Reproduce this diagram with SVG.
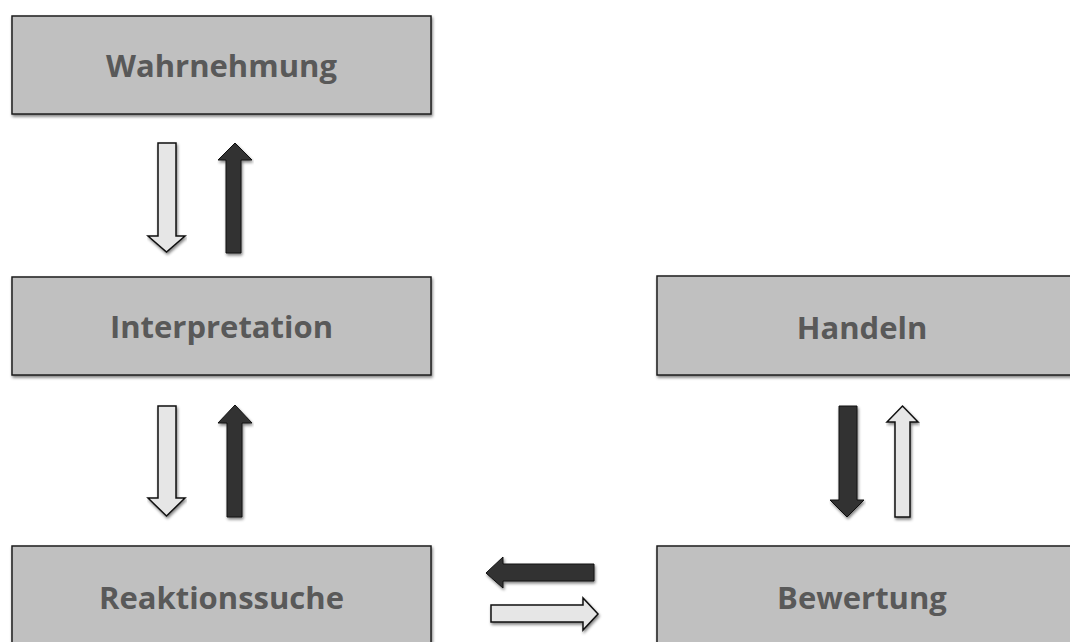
<svg xmlns="http://www.w3.org/2000/svg" width="1070" height="642" viewBox="0 0 1070 642">
<defs>
<filter id="sh" x="-5%" y="-10%" width="110%" height="130%">
<feGaussianBlur in="SourceAlpha" stdDeviation="1.5"/>
<feOffset dx="1" dy="2" result="b"/>
<feComponentTransfer><feFuncA type="linear" slope="0.5"/></feComponentTransfer>
<feMerge><feMergeNode/><feMergeNode in="SourceGraphic"/></feMerge>
</filter>
<style>
.box{fill:#c0c0c0;stroke:#1e1e1e;stroke-width:1.5;filter:url(#sh)}
.lbl{font-family:"Open Sans","Liberation Sans",sans-serif;font-weight:bold;font-size:31px;fill:#595959;text-anchor:middle}
.light{fill:#e6e6e6;stroke:#111;stroke-width:1.5;filter:url(#sh)}
.dark{fill:#333333;stroke:#111;stroke-width:1;filter:url(#sh)}
</style>
</defs>
<rect width="1070" height="642" fill="#ffffff"/>
<g id="wahrnehmung"><rect class="box" x="12" y="16" width="419" height="98"/><text class="lbl" x="221.5" y="77">Wahrnehmung</text></g>
<g id="interpretation"><rect class="box" x="12" y="277" width="419" height="98"/><text class="lbl" x="221.5" y="338">Interpretation</text></g>
<g id="reaktionssuche"><rect class="box" x="12" y="546" width="419" height="100"/><text class="lbl" x="221.5" y="609">Reaktionssuche</text></g>
<g id="handeln"><rect class="box" x="657" y="276" width="420" height="99"/><text class="lbl" x="862" y="339">Handeln</text></g>
<g id="bewertung"><rect class="box" x="657" y="546" width="420" height="100"/><text class="lbl" x="862" y="609">Bewertung</text></g>
<g id="connectors">
<polygon class="light" points="158,143 176,143 176,236 185,236 166.5,252 148,236 158,236"/>
<polygon class="dark" points="226,253 241,253 241,160 252,160 235,143 218,160 226,160"/>
<polygon class="light" points="158,406 176,406 176,498 185,498 166.5,516 148,498 158,498"/>
<polygon class="dark" points="227,517 242,517 242,423 252,423 235,405 218,423 227,423"/>
<polygon class="dark" points="839,406 857,406 857,500 864,500 847,517 830,500 839,500"/>
<polygon class="light" points="895,517 910,517 910,422 918,422 902.5,406 887,422 895,422"/>
<polygon class="dark" points="594,564 594,581 503,581 503,588 486,573 503,557 503,564"/>
<polygon class="light" points="491,605 583,605 583,598 598,614 583,630 583,622 491,622"/>
</g>
</svg>
